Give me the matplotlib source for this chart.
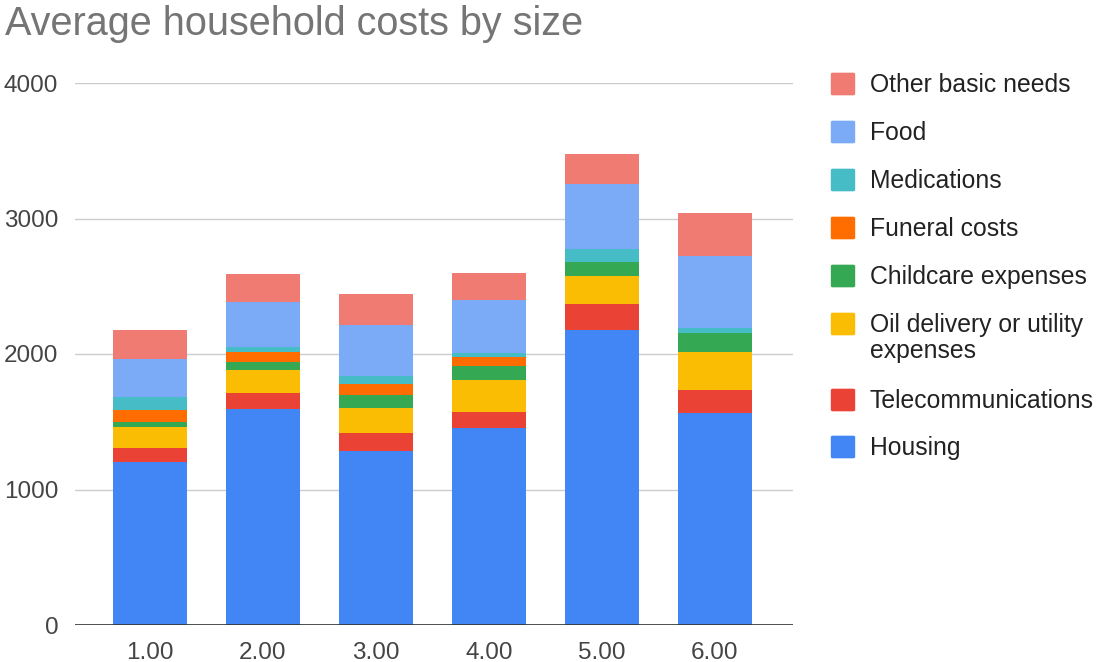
import matplotlib.pyplot as plt
from matplotlib.patches import FancyBboxPatch

plt.rcParams['font.family'] = ['Liberation Sans', 'DejaVu Sans']

sizes = ['1.00', '2.00', '3.00', '4.00', '5.00', '6.00']

housing = [1200, 1595, 1285, 1455, 2180, 1565]
telecom = [105, 117, 130, 120, 190, 170]
oil_utility = [155, 170, 185, 235, 205, 280]
childcare = [40, 59, 95, 105, 105, 140]
funeral = [90, 74, 80, 65, 0, 0]
medications = [95, 37, 65, 30, 95, 37]
food = [280, 332, 375, 390, 480, 530]
other = [215, 206, 230, 200, 220, 320]

series = [
    ('Housing', housing, '#4285F4'),
    ('Telecommunications', telecom, '#EA4335'),
    ('Oil delivery or utility\nexpenses', oil_utility, '#FBBC04'),
    ('Childcare expenses', childcare, '#34A853'),
    ('Funeral costs', funeral, '#FF6D01'),
    ('Medications', medications, '#46BDC6'),
    ('Food', food, '#7BAAF7'),
    ('Other basic needs', other, '#F07B72'),
]

W, H = 1096, 662
fig = plt.figure(figsize=(W / 100, H / 100), dpi=100)
ax = fig.add_axes([75 / W, 1 - 625 / H, (793 - 75) / W, (625 - 83) / H])

x = list(range(len(sizes)))
width = 0.655
bottom = [0] * len(sizes)
for name, vals, color in series:
    ax.bar(x, vals, width, bottom=bottom, color=color, linewidth=0, zorder=2)
    bottom = [b + v for b, v in zip(bottom, vals)]

ax.set_xlim(-0.66, len(sizes) - 1 + 0.69)
ax.set_ylim(0, 4000)
ax.set_yticks([0, 1000, 2000, 3000, 4000])
ax.set_xticks(x)
ax.set_xticklabels(sizes)
ax.grid(axis='y', color='#cccccc', linewidth=1, zorder=0)
ax.axhline(0, color='#333333', linewidth=1.2, zorder=3)
for s in ax.spines.values():
    s.set_visible(False)
ax.tick_params(length=0, labelsize=17.5, colors='#444444')
ax.tick_params(axis='x', pad=12)
ax.tick_params(axis='y', pad=12)

fig.text(5 / W, 1 - 24 / H, 'Average household costs by size', fontsize=28.5,
         color='#757575', va='center', ha='left')

# legend drawn by hand, top entry first
rows = [84, 132, 180, 228, 276, 324, 400, 447]
for (name, vals, color), yc in zip(reversed(series), rows):
    fig.patches.append(FancyBboxPatch(((831 + 2) / W, 1 - (yc + 10) / H), 20 / W, 20 / H,
                                      boxstyle='round,pad=0.002', transform=fig.transFigure,
                                      facecolor=color, edgecolor='none'))
    fig.text(870 / W, 1 - (yc - 11) / H, name, fontsize=17.8, color='#222222',
             va='top', ha='left', linespacing=1.1)

fig.savefig('out.png', dpi=100)
